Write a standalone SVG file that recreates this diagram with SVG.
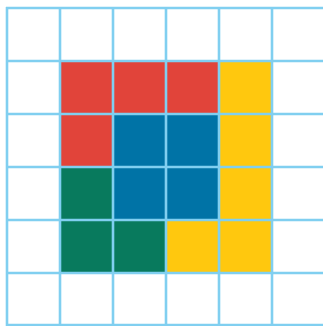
<svg xmlns="http://www.w3.org/2000/svg" width="323" height="326" viewBox="0 0 323 326">
<style>
.r{fill:#E1443A}.b{fill:#0073A6}.g{fill:#087A5D}.y{fill:#FFC80E}
.grid line{stroke:#80CFF0;stroke-width:2.6}
</style>
<rect width="323" height="326" fill="#FFFFFF"/>
<g id="cells">
<rect class="r" x="60" y="61" width="53" height="53"/>
<rect class="r" x="113" y="61" width="53" height="53"/>
<rect class="r" x="166" y="61" width="53" height="53"/>
<rect class="y" x="219" y="61" width="53" height="53"/>
<rect class="r" x="60" y="114" width="53" height="53"/>
<rect class="b" x="113" y="114" width="53" height="53"/>
<rect class="b" x="166" y="114" width="53" height="53"/>
<rect class="y" x="219" y="114" width="53" height="53"/>
<rect class="g" x="60" y="167" width="53" height="53"/>
<rect class="b" x="113" y="167" width="53" height="53"/>
<rect class="b" x="166" y="167" width="53" height="53"/>
<rect class="y" x="219" y="167" width="53" height="53"/>
<rect class="g" x="60" y="220" width="53" height="53"/>
<rect class="g" x="113" y="220" width="53" height="53"/>
<rect class="y" x="166" y="220" width="53" height="53"/>
<rect class="y" x="219" y="220" width="53" height="53"/>
</g>
<g class="grid" id="grid">
<line x1="7" y1="7" x2="7" y2="326"/>
<line x1="60" y1="7" x2="60" y2="326"/>
<line x1="113" y1="7" x2="113" y2="326"/>
<line x1="166" y1="7" x2="166" y2="326"/>
<line x1="219" y1="7" x2="219" y2="326"/>
<line x1="272" y1="7" x2="272" y2="326"/>
<line x1="6" y1="8" x2="323" y2="8"/>
<line x1="6" y1="61" x2="323" y2="61"/>
<line x1="6" y1="114" x2="323" y2="114"/>
<line x1="6" y1="167" x2="323" y2="167"/>
<line x1="6" y1="220" x2="323" y2="220"/>
<line x1="6" y1="273" x2="323" y2="273"/>
<line x1="6" y1="325" x2="323" y2="325"/>
</g>
</svg>
